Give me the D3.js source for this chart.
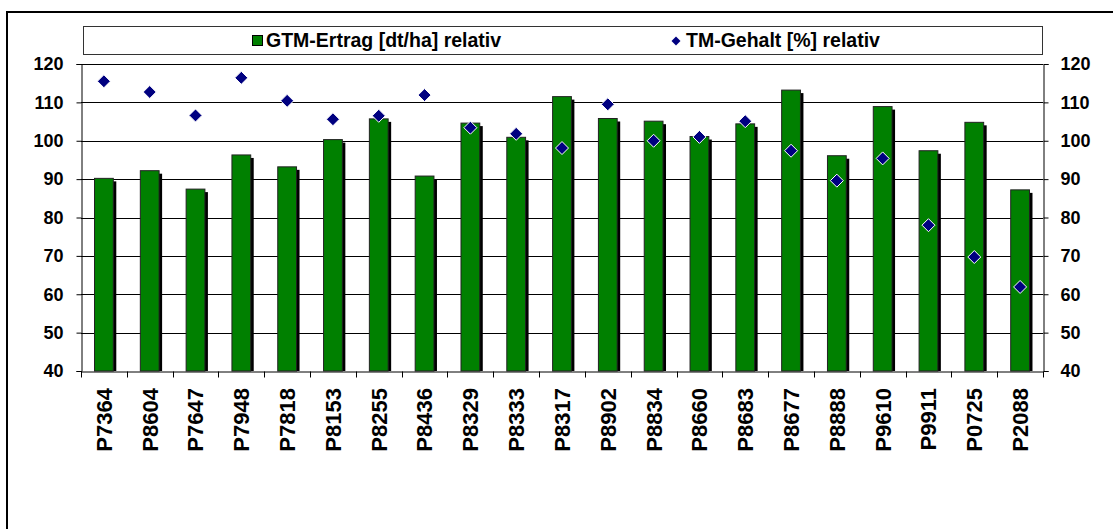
<!DOCTYPE html>
<html>
<head>
<meta charset="utf-8">
<script src="https://cdn.jsdelivr.net/npm/d3@7"></script>
<style>
  html, body { margin: 0; padding: 0; background: #fff; }
  svg { display: block; }
  text { font-family: "Liberation Sans", Arial, sans-serif; font-weight: bold; fill: #000; }
</style>
</head>
<body>
<svg id="chart" width="1113" height="529"></svg>
<script>
const categories = ["P7364","P8604","P7647","P7948","P7818","P8153","P8255","P8436","P8329","P8333","P8317","P8902","P8834","P8660","P8683","P8677","P8888","P9610","P9911","P0725","P2088"];
const gtmErtrag = [90.2,92.2,87.4,96.3,93.2,100.3,105.7,90.8,104.6,100.9,111.5,105.8,105.1,101.1,104.4,113.2,96.1,108.9,97.4,104.8,87.2];
const tmGehalt = [115.5,112.7,106.6,116.4,110.4,105.6,106.5,111.9,103.4,101.8,98.1,109.5,100.0,101.0,105.1,97.4,89.6,95.4,78.0,69.7,61.9];
const yTicks = [40,50,60,70,80,90,100,110,120];
const seriesNames = ["GTM-Ertrag [dt/ha] relativ", "TM-Gehalt [%] relativ"];

const svg = d3.select("#chart");
const pL = 81, pR = 1043, pT = 64, pB = 371;

const x = d3.scaleBand().domain(categories).range([pL, pR]).paddingInner(0).paddingOuter(0);
const y = d3.scaleLinear().domain([40, 120]).range([pB, pT]);

// outer chart border (left + top visible)
svg.append("line").attr("x1", 7).attr("x2", 7).attr("y1", 11).attr("y2", 529).attr("stroke", "#000").attr("stroke-width", 2);
svg.append("line").attr("x1", 6).attr("x2", 1113).attr("y1", 12).attr("y2", 12).attr("stroke", "#000").attr("stroke-width", 2);

// gridlines
svg.append("g").selectAll("line").data(yTicks.filter(d => d > 40 && d < 120)).join("line")
  .attr("x1", pL).attr("x2", pR)
  .attr("y1", d => Math.round(y(d)) + 0.5).attr("y2", d => Math.round(y(d)) + 0.5)
  .attr("stroke", "#000").attr("stroke-width", 1);

// bars with shadow
const bw = x.bandwidth() * 0.41;
const barG = svg.append("g");
barG.selectAll("rect.shadow").data(categories).join("rect").attr("class", "shadow")
  .attr("x", (d, i) => x(d) + (x.bandwidth() - bw) / 2 + 3)
  .attr("y", (d, i) => y(gtmErtrag[i]) + 3)
  .attr("width", bw)
  .attr("height", (d, i) => pB - y(gtmErtrag[i]) - 3)
  .attr("fill", "#000");
barG.selectAll("rect.bar").data(categories).join("rect").attr("class", "bar")
  .attr("x", (d, i) => x(d) + (x.bandwidth() - bw) / 2)
  .attr("y", (d, i) => y(gtmErtrag[i]))
  .attr("width", bw)
  .attr("height", (d, i) => pB - y(gtmErtrag[i]))
  .attr("fill", "#008000").attr("stroke", "#222").attr("stroke-width", 1);

// plot top line
svg.append("line").attr("x1", pL).attr("x2", pR).attr("y1", pT + 0.5).attr("y2", pT + 0.5).attr("stroke", "#000");

// axes
const yAxisL = d3.axisLeft(y).tickValues(yTicks).tickSize(5).tickPadding(13);
const yAxisR = d3.axisRight(y).tickValues(yTicks).tickSize(5).tickPadding(12);
const xAxis = d3.axisBottom(x).tickSize(0).tickFormat("");

const gL = svg.append("g").attr("transform", `translate(${pL + 0.5},0)`).call(yAxisL);
const gR = svg.append("g").attr("transform", `translate(${pR + 0.5},0)`).call(yAxisR);
[gL, gR].forEach(g => {
  g.select(".domain").attr("stroke", "#000");
  g.selectAll(".tick line").attr("stroke", "#000");
  g.selectAll(".tick text").style("font-size", "18px").attr("font-family", "Liberation Sans, Arial, sans-serif").attr("font-weight", "bold").attr("fill", "#000");
});

const gX = svg.append("g").attr("transform", `translate(0,${pB + 0.5})`).call(xAxis);
gX.select(".domain").attr("stroke", "#000");
// category boundary ticks
const boundaries = categories.map(c => x(c)).concat([pR]);
gX.append("g").selectAll("line").data(boundaries).join("line")
  .attr("x1", d => Math.round(d) + 0.5).attr("x2", d => Math.round(d) + 0.5)
  .attr("y1", 0).attr("y2", 6).attr("stroke", "#000");

// category labels
svg.append("g").selectAll("text").data(categories).join("text")
  .attr("transform", d => `translate(${x(d) + x.bandwidth() / 2},388) rotate(-90)`)
  .attr("text-anchor", "end")
  .attr("dy", "0.36em")
  .style("font-size", "22px")
  .text(d => d);

// diamonds
const diamond = (cx, cy, r) => `M${cx},${cy - r}L${cx + r},${cy}L${cx},${cy + r}L${cx - r},${cy}Z`;
svg.append("g").selectAll("path").data(categories).join("path")
  .attr("d", (d, i) => diamond(x(d) + x.bandwidth() / 2, y(tmGehalt[i]), 6.5))
  .attr("fill", "#000080").attr("stroke", "#fff").attr("stroke-width", 1);

// legend
const lg = svg.append("g");
lg.append("rect").attr("x", 83.5).attr("y", 26.5).attr("width", 959).attr("height", 28)
  .attr("fill", "#fff").attr("stroke", "#333").attr("stroke-width", 1);
lg.append("rect").attr("x", 252.5).attr("y", 35.5).attr("width", 10).attr("height", 10)
  .attr("fill", "#008000").attr("stroke", "#000");
lg.append("text").attr("x", 266).attr("y", 47).style("font-size", "19.5px").text(seriesNames[0]);
lg.append("path").attr("d", diamond(676, 41, 4.5)).attr("fill", "#000080");
lg.append("text").attr("x", 686).attr("y", 47).style("font-size", "19.5px").text(seriesNames[1]);
</script>
</body>
</html>
